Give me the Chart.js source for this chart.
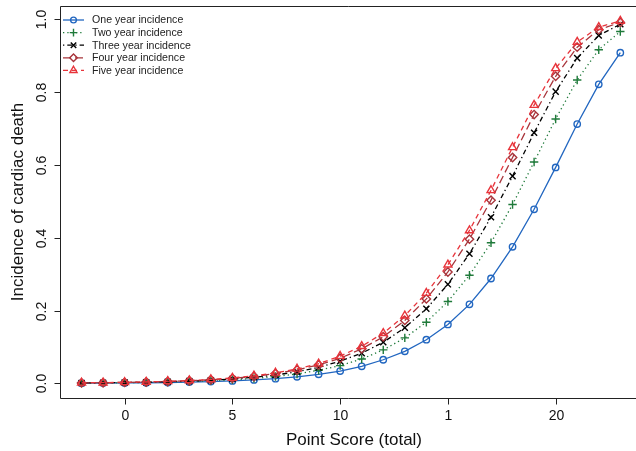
<!DOCTYPE html>
<html>
<head>
<meta charset="utf-8">
<script src="https://cdn.jsdelivr.net/npm/chart.js@4"></script>
<style>
    html, body { margin: 0; padding: 0; background: #fff; overflow: hidden; }
    #wrap { position: relative; width: 636px; height: 451px; }
</style>
</head>
<body>
<div id="wrap"><canvas id="chart"></canvas></div>
<script>
    // Point score on the x axis
    const scores = [-2, -1, 0, 1, 2, 3, 4, 5, 6, 7, 8, 9, 10, 11, 12, 13, 14, 15, 16, 17, 18, 19, 20, 21, 22, 23];

    // Incidence
    const oneYear = [0.0007, 0.0010, 0.0013, 0.0019, 0.0026, 0.0036, 0.0050, 0.0069, 0.0095, 0.013, 0.018, 0.025, 0.034, 0.047, 0.065, 0.088, 0.120, 0.162, 0.217, 0.288, 0.375, 0.478, 0.593, 0.712, 0.821, 0.908];
    const twoYear = [0.0010, 0.0014, 0.0019, 0.0027, 0.0037, 0.0052, 0.0071, 0.0099, 0.0136, 0.019, 0.026, 0.036, 0.049, 0.067, 0.092, 0.125, 0.168, 0.225, 0.297, 0.386, 0.491, 0.608, 0.726, 0.833, 0.916, 0.966];
    const threeYear = [0.0013, 0.0018, 0.0024, 0.0034, 0.0047, 0.0064, 0.0089, 0.012, 0.017, 0.023, 0.032, 0.044, 0.061, 0.083, 0.113, 0.153, 0.205, 0.272, 0.356, 0.456, 0.569, 0.688, 0.801, 0.893, 0.955, 0.986];
    const fourYear = [0.0015, 0.0020, 0.0028, 0.0039, 0.0053, 0.0074, 0.010, 0.014, 0.019, 0.027, 0.037, 0.051, 0.069, 0.095, 0.128, 0.173, 0.232, 0.306, 0.396, 0.503, 0.620, 0.738, 0.843, 0.923, 0.971, 0.991];
    const fiveYear = [0.0016, 0.0022, 0.0030, 0.0042, 0.0058, 0.0080, 0.011, 0.015, 0.021, 0.029, 0.040, 0.054, 0.075, 0.102, 0.138, 0.186, 0.248, 0.326, 0.420, 0.530, 0.648, 0.764, 0.865, 0.937, 0.978, 0.995];

    const seriesNames = ['One year incidence', 'Two year incidence', 'Three year incidence', 'Four year incidence', 'Five year incidence'];

    // Axis ticks
    const xTickValues = [0, 5, 10, 15, 20];
    const xTickLabels = ['0', '5', '10', '1', '20'];
    const yTickValues = [0, 0.2, 0.4, 0.6, 0.8, 1.0];
    const yTickLabels = ['0.0', '0.2', '0.4', '0.6', '0.8', '1.0'];

    const xTitle = 'Point Score (total)';
    const yTitle = 'Incidence of cardiac death';

    const FONT = "'Liberation Sans', Arial, Helvetica, sans-serif";

    const styles = [
        { color: '#2166c0', dash: [], pointStyle: 'circle', radius: 3.2 },
        { color: '#1f7a3a', dash: [1.3, 3], pointStyle: 'cross', radius: 4.2 },
        { color: '#000000', dash: [1.3, 3, 5, 3], pointStyle: 'crossRot', radius: 4.3 },
        { color: '#a8343b', dash: [8, 4], pointStyle: 'rectRot', radius: 4.2 },
        { color: '#e8343b', dash: [5, 4], pointStyle: 'triangle', radius: 4.6 }
    ];

    function toPoints(values) {
        return scores.map(function(x, i) {
            return { x: x, y: values[i] };
        });
    }

    const allSeries = [oneYear, twoYear, threeYear, fourYear, fiveYear];

    const datasets = allSeries.map(function(values, i) {
        const s = styles[i];
        return {
            label: seriesNames[i],
            data: toPoints(values),
            borderColor: s.color,
            borderWidth: 1.3,
            borderDash: s.dash,
            pointStyle: s.pointStyle,
            pointRadius: s.radius,
            pointBorderColor: s.color,
            pointBackgroundColor: 'rgba(0,0,0,0)',
            pointBorderWidth: 1.4,
            tension: 0,
            fill: false,
            order: 5 - i
        };
    });

    /**
     * Draws the R-style frame, ticks, titles and legend
     */
    const axesPlugin = {
        id: 'rAxes',
        afterDraw: function(chart) {
            const ctx = chart.ctx;
            const area = chart.chartArea;
            const xs = chart.scales.x;
            const ys = chart.scales.y;

            ctx.save();
            ctx.strokeStyle = '#222';
            ctx.lineWidth = 1;
            ctx.setLineDash([]);

            // frame (right edge lies past the window)
            ctx.beginPath();
            ctx.moveTo(636, area.top + 0.5);
            ctx.lineTo(area.left + 0.5, area.top + 0.5);
            ctx.lineTo(area.left + 0.5, area.bottom + 0.5);
            ctx.lineTo(636, area.bottom + 0.5);
            ctx.stroke();

            ctx.fillStyle = '#111';
            ctx.font = '14px ' + FONT;

            // x ticks
            ctx.textAlign = 'center';
            ctx.textBaseline = 'middle';
            xTickValues.forEach(function(v, i) {
                const px = Math.round(xs.getPixelForValue(v)) + 0.5;
                ctx.beginPath();
                ctx.moveTo(px, area.bottom + 0.5);
                ctx.lineTo(px, area.bottom + 6.5);
                ctx.stroke();
                ctx.fillText(xTickLabels[i], px, area.bottom + 18);
            });

            // y ticks, labels parallel to the axis
            yTickValues.forEach(function(v, i) {
                const py = Math.round(ys.getPixelForValue(v)) + 0.5;
                ctx.beginPath();
                ctx.moveTo(area.left + 0.5, py);
                ctx.lineTo(area.left - 5.5, py);
                ctx.stroke();
                ctx.save();
                ctx.translate(area.left - 18, py);
                ctx.rotate(-Math.PI / 2);
                ctx.fillText(yTickLabels[i], 0, 0);
                ctx.restore();
            });

            // axis titles
            ctx.font = '17px ' + FONT;
            ctx.fillText(xTitle, 354, area.bottom + 42);
            ctx.save();
            ctx.translate(18, (area.top + area.bottom) / 2);
            ctx.rotate(-Math.PI / 2);
            ctx.fillText(yTitle, 0, 0);
            ctx.restore();

            // legend
            ctx.font = '10.6px ' + FONT;
            ctx.textAlign = 'left';
            seriesNames.forEach(function(name, i) {
                const s = styles[i];
                const ly = 20 + i * 12.6;
                ctx.strokeStyle = s.color;
                ctx.lineWidth = 1.3;
                ctx.setLineDash(s.dash);
                ctx.beginPath();
                ctx.moveTo(63, ly);
                ctx.lineTo(84, ly);
                ctx.stroke();
                ctx.setLineDash([]);
                ctx.lineWidth = 1.4;
                ctx.fillStyle = 'rgba(0,0,0,0)';
                Chart.helpers.drawPoint(ctx, {
                    pointStyle: s.pointStyle,
                    radius: s.radius * 0.9,
                    rotation: 0,
                    borderWidth: 1.4
                }, 73.5, ly);
                ctx.fillStyle = '#222';
                ctx.fillText(name, 92, ly + 0.5);
            });

            ctx.restore();
        }
    };

    function init() {
        const ctx = document.getElementById('chart').getContext('2d');
        new Chart(ctx, {
            type: 'line',
            data: { datasets: datasets },
            options: {
                responsive: true,
                maintainAspectRatio: false,
                animation: false,
                layout: {
                    padding: { left: 60, top: 6, right: 0, bottom: 53 }
                },
                plugins: {
                    legend: { display: false },
                    tooltip: { enabled: false }
                },
                scales: {
                    x: {
                        type: 'linear',
                        display: false,
                        min: -3,
                        max: 23.45
                    },
                    y: {
                        type: 'linear',
                        display: false,
                        min: -0.04,
                        max: 1.036
                    }
                }
            },
            plugins: [axesPlugin]
        });
    }

    init();
</script>
</body>
</html>
